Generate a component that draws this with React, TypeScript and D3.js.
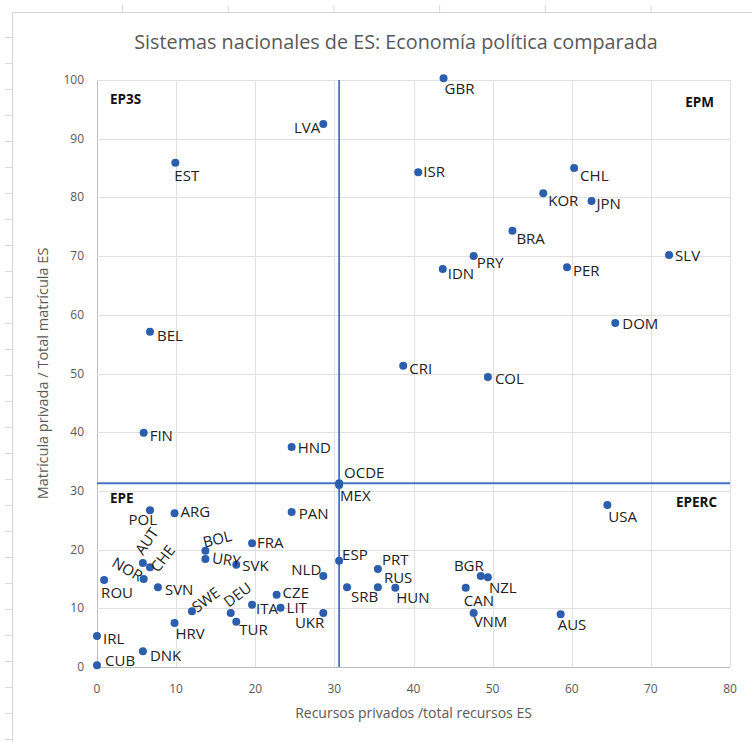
import React, { useEffect, useRef } from 'react';
import * as d3 from 'd3';

// country codes and their values
const codes = [
  'GBR', 'LVA', 'EST', 'ISR', 'CHL', 'KOR', 'JPN', 'BRA', 'PRY', 'IDN', 'PER', 'SLV', 'DOM', 'BEL',
  'CRI', 'COL', 'FIN', 'HND', 'OCDE', 'MEX', 'USA', 'POL', 'ARG', 'PAN', 'FRA', 'BOL', 'URY', 'SVK',
  'AUT', 'CHE', 'NOR', 'ROU', 'SVN', 'SWE', 'DEU', 'TUR', 'HRV', 'ITA', 'LIT', 'CZE', 'NLD', 'UKR',
  'IRL', 'CUB', 'DNK', 'ESP', 'SRB', 'PRT', 'RUS', 'HUN', 'BGR', 'NZL', 'CAN', 'VNM', 'AUS',
];
// Recursos privados / total recursos ES
const privateResources = [
  43.8, 28.6, 9.9, 40.6, 60.3, 56.4, 62.5, 52.5, 47.6, 43.7, 59.4, 72.3, 65.5, 6.7,
  38.7, 49.4, 5.9, 24.6, 30.6, 30.6, 64.5, 6.7, 9.8, 24.6, 19.6, 13.7, 13.7, 17.6,
  5.8, 6.7, 5.9, 0.9, 7.7, 12.0, 16.9, 17.6, 9.8, 19.6, 23.2, 22.7, 28.6, 28.6,
  0.0, 0.0, 5.8, 30.6, 31.6, 35.5, 35.5, 37.7, 48.5, 49.4, 46.6, 47.6, 58.6,
];
// Matrícula privada / total matrícula ES
const privateEnrolment = [
  100.3, 92.5, 85.9, 84.3, 85.0, 80.7, 79.4, 74.3, 70.0, 67.8, 68.1, 70.2, 58.6, 57.1,
  51.3, 49.4, 39.9, 37.5, 31.3, 31.0, 27.6, 26.7, 26.2, 26.4, 21.1, 19.8, 18.4, 17.4,
  17.7, 17.0, 15.0, 14.8, 13.6, 9.5, 9.2, 7.7, 7.5, 10.6, 10.1, 12.3, 15.5, 9.2,
  5.3, 0.3, 2.7, 18.1, 13.6, 16.7, 13.6, 13.5, 15.5, 15.3, 13.5, 9.2, 9.0,
];

const xTicks = [0, 10, 20, 30, 40, 50, 60, 70, 80];
const yTicks = [0, 10, 20, 30, 40, 50, 60, 70, 80, 90, 100];
const referenceCode = 'OCDE';

const quadrantLabels = ['EP3S', 'EPM', 'EPE', 'EPERC'];

// label placement: dx, dy, anchor, rotation
const labelPlacement: Record<string, [number, number, string, number]> = {
  GBR: [1, 16, 'start', 0], LVA: [-3, 9, 'end', 0], EST: [-1, 18, 'start', 0],
  ISR: [5, 5, 'start', 0], CHL: [6, 13, 'start', 0], KOR: [5, 13, 'start', 0],
  JPN: [5, 8, 'start', 0], BRA: [4, 13, 'start', 0], PRY: [3, 12, 'start', 0],
  IDN: [5, 10, 'start', 0], PER: [6, 9, 'start', 0], SLV: [6, 6, 'start', 0],
  DOM: [7, 6, 'start', 0], BEL: [7, 9, 'start', 0], CRI: [6, 8, 'start', 0],
  COL: [7, 7, 'start', 0], FIN: [6, 8, 'start', 0], HND: [6, 6, 'start', 0],
  OCDE: [5, -5, 'start', 0], MEX: [1, 16, 'start', 0], USA: [1, 17, 'start', 0],
  POL: [7, 15, 'end', 0], ARG: [6, 4, 'start', 0], PAN: [7, 7, 'start', 0],
  FRA: [5, 5, 'start', 0], BOL: [-1, -3, 'start', -14], URY: [6, 4, 'start', 8],
  SVK: [6, 6, 'start', 0], AUT: [0, -7, 'start', -55], CHE: [8, 6, 'start', -52],
  NOR: [-5, 3, 'end', 30], ROU: [-3, 18, 'start', 0], SVN: [7, 8, 'start', 0],
  SWE: [5, 2, 'start', -37], DEU: [-2, -5, 'start', -37], TUR: [3, 13, 'start', 0],
  HRV: [1, 16, 'start', 0], ITA: [4, 9, 'start', 0], LIT: [6, 5, 'start', 0],
  CZE: [6, 3, 'start', 0], NLD: [-2, -1, 'end', 0], UKR: [1, 15, 'end', 0],
  IRL: [6, 8, 'start', 0], CUB: [8, 1, 'start', 0], DNK: [7, 10, 'start', 0],
  ESP: [3, -1, 'start', 0], SRB: [4, 15, 'start', 0], PRT: [4, -4, 'start', 0],
  RUS: [6, -4, 'start', 0], HUN: [1, 15, 'start', 0], BGR: [3, -5, 'end', 0],
  NZL: [1, 16, 'start', 0], CAN: [-2, 18, 'start', 0], VNM: [0, 14, 'start', 0],
  AUS: [-3, 16, 'start', 0],
};

const FONT = '"Open Sans", Calibri, sans-serif';

export default function App() {
  const svgRef = useRef<SVGSVGElement>(null);

  useEffect(() => {
    if (!svgRef.current) return;
    const svg = d3.select(svgRef.current);
    svg.selectAll('*').remove();

    const width = 752;
    const height = 742;
    const plot = { left: 97, right: 730, top: 80, bottom: 667 };

    const x = d3.scaleLinear().domain([0, 80]).range([plot.left, plot.right]);
    const y = d3.scaleLinear().domain([0, 100]).range([plot.bottom, plot.top]);

    svg.append('rect').attr('width', width).attr('height', height).attr('fill', '#fff');

    // worksheet behind the chart
    svg.append('line').attr('x1', 12.5).attr('x2', 12.5).attr('y1', 12).attr('y2', height)
      .attr('stroke', '#d4d4d4');
    svg.append('line').attr('x1', 12).attr('x2', width).attr('y1', 12.5).attr('y2', 12.5)
      .attr('stroke', '#d4d4d4');
    svg.selectAll('.row-tick')
      .data(d3.range(37, height, 26))
      .enter().append('line')
      .attr('x1', 5).attr('x2', 12).attr('y1', (d: number) => d + 0.5).attr('y2', (d: number) => d + 0.5)
      .attr('stroke', '#dadada');
    svg.selectAll('.col-tick')
      .data(d3.range(122, width, 105.7))
      .enter().append('line')
      .attr('y1', 5).attr('y2', 12).attr('x1', (d: number) => d + 0.5).attr('x2', (d: number) => d + 0.5)
      .attr('stroke', '#dadada');

    // gridlines
    const grid = svg.append('g');
    grid.selectAll('.gx')
      .data(xTicks)
      .enter().append('line')
      .attr('x1', (d: number) => Math.round(x(d)) + 0.5).attr('x2', (d: number) => Math.round(x(d)) + 0.5)
      .attr('y1', plot.top).attr('y2', plot.bottom)
      .attr('stroke', (d: number) => (d === 0 ? '#bfbfbf' : '#e0e0e0'));
    grid.selectAll('.gy')
      .data(yTicks)
      .enter().append('line')
      .attr('y1', (d: number) => Math.round(y(d)) + 0.5).attr('y2', (d: number) => Math.round(y(d)) + 0.5)
      .attr('x1', plot.left).attr('x2', plot.right)
      .attr('stroke', (d: number) => (d === 0 ? '#bfbfbf' : '#e0e0e0'));

    // tick labels
    svg.append('g')
      .selectAll('text')
      .data(xTicks)
      .enter().append('text')
      .attr('x', (d: number) => x(d))
      .attr('y', plot.bottom + 26)
      .attr('text-anchor', 'middle')
      .attr('font-family', FONT)
      .attr('font-size', 12)
      .attr('fill', '#595959')
      .text((d: number) => d);
    svg.append('g')
      .selectAll('text')
      .data(yTicks)
      .enter().append('text')
      .attr('x', plot.left - 13)
      .attr('y', (d: number) => y(d) + 4)
      .attr('text-anchor', 'end')
      .attr('font-family', FONT)
      .attr('font-size', 12)
      .attr('fill', '#595959')
      .text((d: number) => d);

    // OCDE reference lines
    const refIdx = codes.indexOf(referenceCode);
    const refX = privateResources[refIdx];
    const refY = privateEnrolment[refIdx];
    svg.append('line')
      .attr('x1', x(refX)).attr('x2', x(refX))
      .attr('y1', plot.top).attr('y2', plot.bottom)
      .attr('stroke', '#4472c4').attr('stroke-width', 1.8);
    svg.append('line')
      .attr('x1', plot.left).attr('x2', plot.right)
      .attr('y1', y(refY)).attr('y2', y(refY))
      .attr('stroke', '#4472c4').attr('stroke-width', 1.8);

    // points
    const idx = d3.range(codes.length);
    svg.append('g')
      .selectAll('circle')
      .data(idx)
      .enter().append('circle')
      .attr('cx', (i: number) => x(privateResources[i]))
      .attr('cy', (i: number) => y(privateEnrolment[i]))
      .attr('r', 4)
      .attr('fill', '#2c5eae');

    // point labels
    svg.append('g')
      .selectAll('text')
      .data(idx)
      .enter().append('text')
      .attr('transform', (i: number) => {
        const [dx, dy, , rot] = labelPlacement[codes[i]];
        const px = x(privateResources[i]) + dx;
        const py = y(privateEnrolment[i]) + dy;
        return `translate(${px},${py}) rotate(${rot})`;
      })
      .attr('text-anchor', (i: number) => labelPlacement[codes[i]][2])
      .attr('font-family', FONT)
      .attr('font-size', 15)
      .attr('fill', '#222')
      .text((i: number) => codes[i]);

    // quadrant labels
    const quadPos: [number, number, string][] = [
      [plot.left + 13, plot.top + 24, 'start'],
      [plot.right - 16, plot.top + 27, 'end'],
      [plot.left + 13, plot.bottom - 164, 'start'],
      [plot.right - 13, plot.bottom - 160, 'end'],
    ];
    svg.append('g')
      .selectAll('text')
      .data(quadrantLabels)
      .enter().append('text')
      .attr('x', (_: string, i: number) => quadPos[i][0])
      .attr('y', (_: string, i: number) => quadPos[i][1])
      .attr('text-anchor', (_: string, i: number) => quadPos[i][2])
      .attr('font-family', FONT)
      .attr('font-weight', 'bold')
      .attr('font-size', 13.5)
      .attr('fill', '#111')
      .text((d: string) => d);

    // title and axis titles
    svg.append('text')
      .attr('x', 396)
      .attr('y', 49)
      .attr('text-anchor', 'middle')
      .attr('font-family', FONT)
      .attr('font-size', 19.8)
      .attr('fill', '#595959')
      .text('Sistemas nacionales de ES: Economía política comparada');

    svg.append('text')
      .attr('x', (plot.left + plot.right) / 2)
      .attr('y', 718)
      .attr('text-anchor', 'middle')
      .attr('font-family', FONT)
      .attr('font-size', 14)
      .attr('fill', '#595959')
      .text('Recursos privados /total recursos ES');

    svg.append('text')
      .attr('transform', `translate(48,${(plot.top + plot.bottom) / 2}) rotate(-90)`)
      .attr('text-anchor', 'middle')
      .attr('font-family', FONT)
      .attr('font-size', 14.5)
      .attr('fill', '#595959')
      .text('Matrícula privada / Total matrícula ES');
  }, []);

  return (
    <svg
      ref={svgRef}
      width={752}
      height={742}
      style={{ position: 'absolute', left: 0, top: 0, display: 'block' }}
    />
  );
}
